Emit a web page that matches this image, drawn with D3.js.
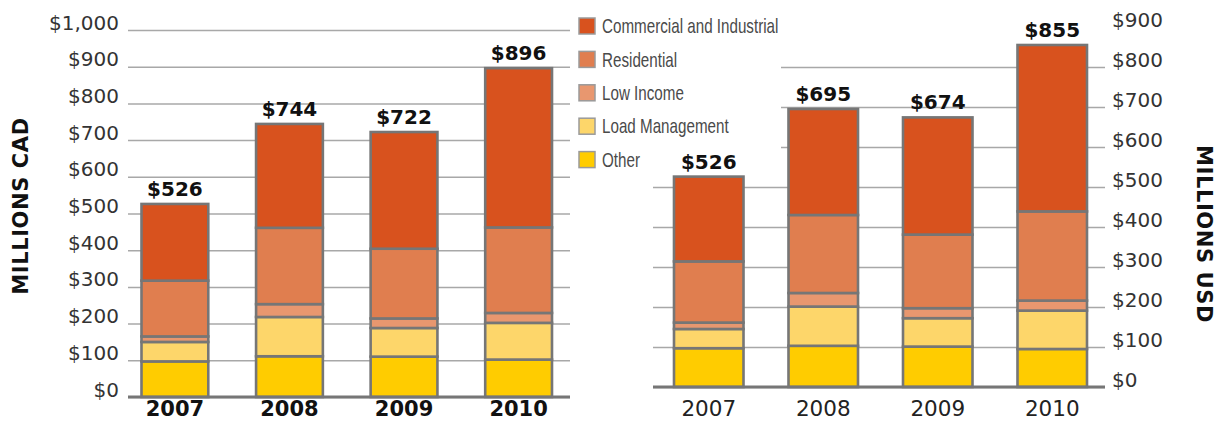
<!DOCTYPE html>
<html>
<head>
<meta charset="utf-8">
<script src="https://cdn.jsdelivr.net/npm/d3@7"></script>
<style>
  html, body { margin: 0; padding: 0; background: #fff; }
  svg { display: block; }
</style>
</head>
<body>
<svg id="chart" width="1225" height="421"></svg>
<script>
// Program spending by customer segment, 2007-2010
const years = ["2007", "2008", "2009", "2010"];
const segments = ["Other", "Load Management", "Low Income", "Residential", "Commercial and Industrial"];
const legendOrder = ["Commercial and Industrial", "Residential", "Low Income", "Load Management", "Other"];
const segmentColors = ["#FFCC00", "#FDD66A", "#E8976F", "#E07E4F", "#D8521E"];

// Millions CAD
const cadOther       = [97, 111, 110, 102];
const cadLoad        = [53, 107, 78, 100];
const cadLowIncome   = [15, 35, 26, 27];
const cadResidential = [152, 208, 190, 233];
const cadCommercial  = [209, 283, 318, 434];
const cadTicks = [0, 100, 200, 300, 400, 500, 600, 700, 800, 900, 1000];

// Millions USD
const usdOther       = [97, 103, 101, 95];
const usdLoad        = [48, 98, 71, 96];
const usdLowIncome   = [16, 34, 25, 25];
const usdResidential = [153, 195, 184, 223];
const usdCommercial  = [212, 265, 293, 416];
const usdTicks = [0, 100, 200, 300, 400, 500, 600, 700, 800, 900];

const svg = d3.select("#chart");
const color = d3.scaleOrdinal().domain(segments).range(segmentColors);
const money = d3.format("$,");
const numFont = "'DejaVu Sans', Verdana, sans-serif";

function rows(other, load, low, res, com) {
  return years.map((y, i) => ({
    year: y,
    "Other": other[i],
    "Load Management": load[i],
    "Low Income": low[i],
    "Residential": res[i],
    "Commercial and Industrial": com[i]
  }));
}

const cadRows = rows(cadOther, cadLoad, cadLowIncome, cadResidential, cadCommercial);
const usdRows = rows(usdOther, usdLoad, usdLowIncome, usdResidential, usdCommercial);
const stack = d3.stack().keys(segments);

// ---------- left panel: CAD ----------
const yCad = d3.scaleLinear().domain([0, 1000]).range([397, 30]);
const xCad = d3.scaleBand().domain(years).range([141.5, 552]).paddingInner(0.417).paddingOuter(0);

// ---------- right panel: USD ----------
const yUsd = d3.scaleLinear().domain([0, 900]).range([387, 27]);
const xUsd = d3.scaleBand().domain(years).range([674, 1087]).paddingInner(0.393).paddingOuter(0);

// gridlines
const gCadGrid = svg.append("g")
  .attr("transform", "translate(128,0)")
  .call(d3.axisLeft(yCad).tickValues(cadTicks).tickSize(-442).tickFormat(""));
gCadGrid.select(".domain").remove();
gCadGrid.selectAll(".tick line").attr("stroke", "#a8a8a8").attr("stroke-width", 1.5);

const gUsdGrid = svg.append("g")
  .attr("transform", "translate(1105,0)")
  .call(d3.axisRight(yUsd).tickValues(usdTicks.filter(t => t < 900)).tickSize(-452).tickFormat(""));
gUsdGrid.select(".domain").remove();
gUsdGrid.selectAll(".tick line").attr("stroke", "#a8a8a8").attr("stroke-width", 1.5);

// legend panel sits over the upper USD gridlines
svg.append("rect")
  .attr("x", 572).attr("y", 0).attr("width", 209).attr("height", 176)
  .attr("fill", "#fff");

const legend = svg.append("g").attr("transform", "translate(579,0)");
const legendItems = legend.selectAll("g.item")
  .data(legendOrder)
  .join("g")
  .attr("class", "item")
  .attr("transform", (d, i) => `translate(0,${26 + i * 33.4})`);
legendItems.append("rect")
  .attr("x", 0).attr("y", -8).attr("width", 16).attr("height", 16)
  .attr("fill", d => color(d))
  .attr("stroke", "#9a9a9a").attr("stroke-width", 1.5);
// condensed legend lettering
legendItems.append("text")
  .attr("transform", "translate(23,0) scale(0.76,1)")
  .attr("dy", "0.36em")
  .attr("font-family", "'Liberation Sans Narrow', 'Liberation Sans', Arial, sans-serif")
  .attr("font-size", 20)
  .attr("fill", "#4a4a4a")
  .text(d => d);

// stacked bars
function drawBars(data, x, y) {
  const g = svg.append("g");
  const layers = g.selectAll("g.layer")
    .data(stack(data))
    .join("g")
    .attr("class", "layer")
    .attr("fill", d => color(d.key));
  layers.selectAll("rect")
    .data(d => d)
    .join("rect")
    .attr("x", d => x(d.data.year))
    .attr("width", x.bandwidth())
    .attr("y", d => y(d[1]))
    .attr("height", d => y(d[0]) - y(d[1]))
    .attr("stroke", "#767676")
    .attr("stroke-width", 2.6);
  return g;
}
drawBars(cadRows, xCad, yCad);
drawBars(usdRows, xUsd, yUsd);

// baselines
svg.append("line").attr("x1", 128).attr("x2", 570).attr("y1", yCad(0)).attr("y2", yCad(0))
  .attr("stroke", "#767676").attr("stroke-width", 3);
svg.append("line").attr("x1", 653).attr("x2", 1105).attr("y1", yUsd(0)).attr("y2", yUsd(0))
  .attr("stroke", "#767676").attr("stroke-width", 3);

// total labels
function totals(data, x, y) {
  svg.append("g").selectAll("text")
    .data(data)
    .join("text")
    .attr("x", d => x(d.year) + x.bandwidth() / 2)
    .attr("y", d => y(d3.sum(segments, k => d[k])) - 8)
    .attr("text-anchor", "middle")
    .attr("font-family", numFont)
    .attr("font-weight", "bold")
    .attr("font-size", 20)
    .attr("fill", "#111")
    .text(d => money(d3.sum(segments, k => d[k])));
}
totals(cadRows, xCad, yCad);
totals(usdRows, xUsd, yUsd);

// y tick labels
const gCadAxis = svg.append("g")
  .attr("transform", "translate(119,0)")
  .call(d3.axisLeft(yCad).tickValues(cadTicks).tickSize(0).tickPadding(0).tickFormat(money));
gCadAxis.select(".domain").remove();
gCadAxis.selectAll("text")
  .attr("font-family", numFont).attr("font-size", 20).attr("fill", "#333").attr("dy", "-0.05em");

const gUsdAxis = svg.append("g")
  .attr("transform", "translate(1112,0)")
  .call(d3.axisRight(yUsd).tickValues(usdTicks).tickSize(0).tickPadding(0).tickFormat(money));
gUsdAxis.select(".domain").remove();
gUsdAxis.selectAll("text")
  .attr("font-family", numFont).attr("font-size", 20).attr("fill", "#333").attr("dy", "-0.05em");

// year labels
svg.append("g").selectAll("text")
  .data(years)
  .join("text")
  .attr("x", d => xCad(d) + xCad.bandwidth() / 2)
  .attr("y", 416)
  .attr("text-anchor", "middle")
  .attr("font-family", numFont).attr("font-weight", "bold").attr("font-size", 21)
  .attr("fill", "#111")
  .text(d => d);

svg.append("g").selectAll("text")
  .data(years)
  .join("text")
  .attr("x", d => xUsd(d) + xUsd.bandwidth() / 2)
  .attr("y", 416)
  .attr("text-anchor", "middle")
  .attr("font-family", numFont).attr("font-size", 21.5)
  .attr("fill", "#222")
  .text(d => d);

// axis titles
svg.append("text")
  .attr("transform", "translate(20,206) rotate(-90)")
  .attr("text-anchor", "middle").attr("dy", "0.36em")
  .attr("font-family", numFont).attr("font-weight", "bold").attr("font-size", 21)
  .attr("letter-spacing", 0.6)
  .attr("fill", "#111")
  .text("MILLIONS CAD");

svg.append("text")
  .attr("transform", "translate(1205,234) rotate(90)")
  .attr("text-anchor", "middle").attr("dy", "0.36em")
  .attr("font-family", numFont).attr("font-weight", "bold").attr("font-size", 21)
  .attr("letter-spacing", 0.6)
  .attr("fill", "#111")
  .text("MILLIONS USD");
</script>
</body>
</html>
